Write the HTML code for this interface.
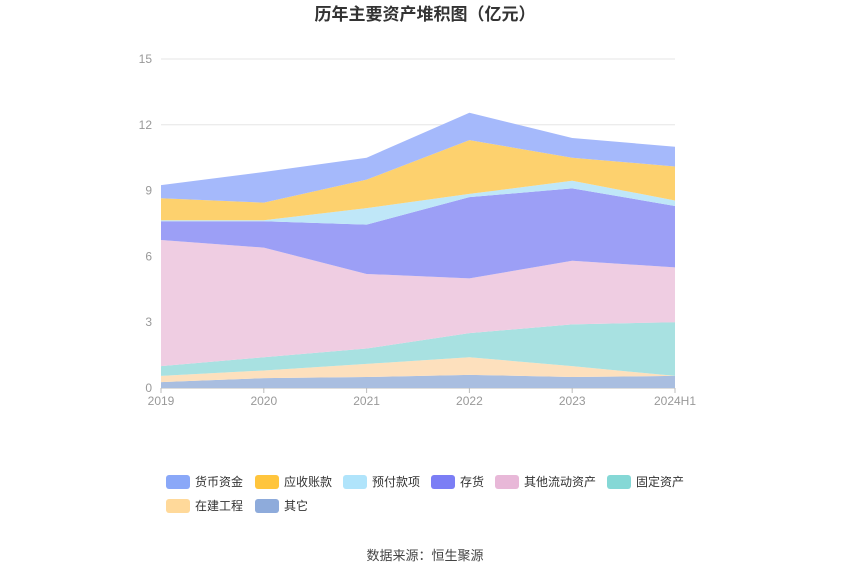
<!DOCTYPE html>
<html><head><meta charset="utf-8"><style>
body{margin:0;background:#fff;font-family:"Liberation Sans","Noto Sans CJK SC",sans-serif}
</style></head><body>
<svg id="c" width="850" height="575" xmlns="http://www.w3.org/2000/svg" font-family="Liberation Sans, Noto Sans CJK SC, sans-serif">
<text x="425" y="20" text-anchor="middle" font-size="17" font-weight="bold" fill="#333">历年主要资产堆积图（亿元）</text>
<g id="grid"></g><g id="areas"></g><g id="axes"></g><g id="legend"></g>
<text x="425" y="560" text-anchor="middle" font-size="13" fill="#444">数据来源：恒生聚源</text>
</svg>
<script>
const categories=["2019","2020","2021","2022","2023","2024H1"];
const seriesNames=["货币资金","应收账款","预付款项","存货","其他流动资产","固定资产","在建工程","其它"];
const yTicks=[0,3,6,9,12,15];
const sHuobi=[0.6,1.4,1.0,1.25,0.9,0.9];
const sYingshou=[1.0,0.8,1.3,2.45,1.05,1.55];
const sYufu=[0.05,0.05,0.75,0.15,0.35,0.25];
const sCunhuo=[0.85,1.2,2.25,3.7,3.3,2.8];
const sQitaLiudong=[5.75,5.0,3.4,2.5,2.9,2.5];
const sGuding=[0.45,0.6,0.7,1.1,1.9,2.45];
const sZaijian=[0.28,0.35,0.6,0.8,0.5,0.0];
const sQita=[0.27,0.45,0.5,0.6,0.5,0.55];
const ns="http://www.w3.org/2000/svg";
const x0=161,x1=675,y0=388,y1=59,yMax=15;
const X=i=>x0+(x1-x0)*i/(categories.length-1);
const Y=v=>y0-(y0-y1)*v/yMax;
function mk(t,a,p){const e=document.createElementNS(ns,t);for(const k in a)e.setAttribute(k,a[k]);p.appendChild(e);return e;}
const grid=document.getElementById('grid'),axes=document.getElementById('axes'),areas=document.getElementById('areas'),legend=document.getElementById('legend');
yTicks.forEach(t=>{
 const l=mk('line',{x1:x0,x2:x1,y1:Y(t),y2:Y(t),stroke:t===0?'#bbb':'#e6e6e6'},grid);
 
 
 const tx=mk('text',{x:152,y:Y(t)+4,'text-anchor':'end','font-size':12,fill:'#999'},axes);tx.textContent=t;
 
 
});
categories.forEach((c,i)=>{
 const tk=mk('line',{x1:X(i),x2:X(i),y1:y0,y2:y0+5,stroke:'#bbb'},axes);
 
 
 const tx=mk('text',{x:X(i),y:y0+17,'text-anchor':'middle','font-size':12,fill:'#999'},axes);tx.textContent=c;
 
 
});
// bottom to top
const stackOrder=[sQita,sZaijian,sGuding,sQitaLiudong,sCunhuo,sYufu,sYingshou,sHuobi];
const stackNames=["其它","在建工程","固定资产","其他流动资产","存货","预付款项","应收账款","货币资金"];
const fills={"货币资金":"#a5b9fb","应收账款":"#fdd16e","预付款项":"#bfe7f8","存货":"#9c9ff6","其他流动资产":"#efcde2","固定资产":"#a8e1e1","在建工程":"#fde0bd","其它":"#a9bee0"};
const swatch={"货币资金":"#8aa8f8","应收账款":"#ffc53d","预付款项":"#b0e4fb","存货":"#7b7ef5","其他流动资产":"#e8b8d8","固定资产":"#85d8d6","在建工程":"#ffd99a","其它":"#8eabdb"};
let base=categories.map(()=>0);
stackOrder.forEach((s,k)=>{
 const top=base.map((b,i)=>b+s[i]);
 let d='M'+top.map((v,i)=>X(i)+','+Y(v)).join('L');
 for(let i=categories.length-1;i>=0;i--)d+='L'+X(i)+','+Y(base[i]);
 const p=mk('path',{d:d+'Z',fill:fills[stackNames[k]],stroke:'none'},areas);
 
 
 base=top;
});
const legPos=[[166,482],[255,482],[343,482],[431,482],[495,482],[607,482],[166,506],[255,506]];
seriesNames.forEach((n,i)=>{
 const [lx,ly]=legPos[i];
 const g=mk('g',{},legend);
 
 
 mk('rect',{x:lx,y:ly-7,width:24,height:14,rx:3,fill:swatch[n]},g);
 const t=mk('text',{x:lx+29,y:ly+4,'font-size':12,fill:'#333'},g);t.textContent=n;
});
</script>
</body></html>
